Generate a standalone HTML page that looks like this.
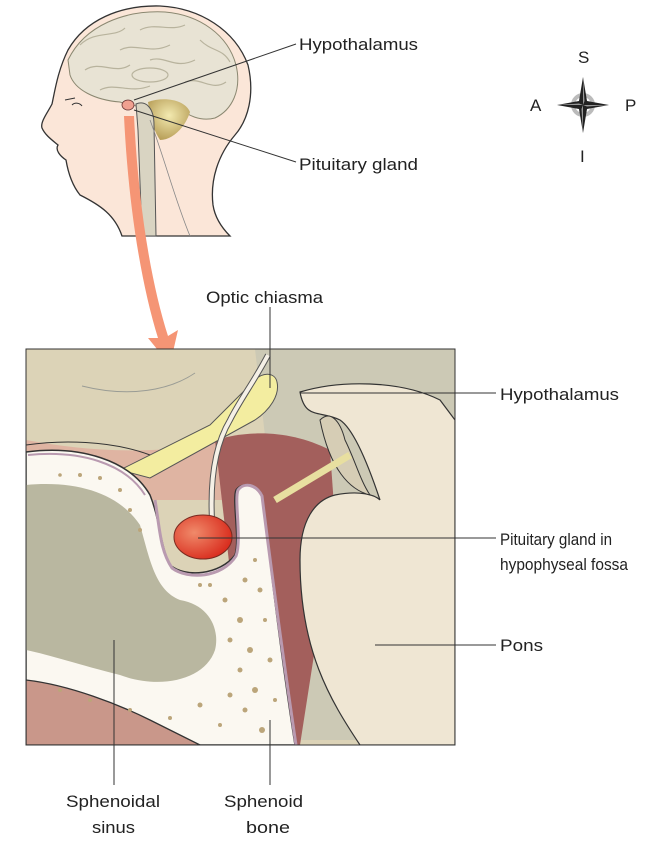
<!DOCTYPE html>
<html><head><meta charset="utf-8"><style>
body{margin:0;background:#fff;width:663px;height:845px;overflow:hidden}
svg{display:block}
text{font-family:"Liberation Sans",sans-serif;font-size:17px;fill:#222}
</style></head><body>
<svg width="663" height="845" viewBox="0 0 663 845" xmlns="http://www.w3.org/2000/svg">
<defs>
<clipPath id="box"><rect x="26" y="349" width="429" height="396"/></clipPath>
<radialGradient id="pit" cx="0.35" cy="0.4" r="0.7"><stop offset="0" stop-color="#f08a6a"/><stop offset="1" stop-color="#d8281a"/></radialGradient>
<radialGradient id="cb" cx="0.5" cy="0.4" r="0.6"><stop offset="0" stop-color="#f3eab0"/><stop offset="1" stop-color="#b9a05a"/></radialGradient>
</defs>
<!-- head -->
<path d="M122,236 C115,215 100,205 80,195 C72,185 68,172 66,160 C60,156 55,150 58,145 C52,140 45,135 42,128 C40,122 48,112 52,104 C55,90 58,70 68,50 C85,20 120,5 160,6 C200,8 235,30 248,65 C255,95 248,120 235,135 C218,155 210,180 213,205 C215,218 222,228 230,236 Z" fill="#fbe6d8" stroke="#333" stroke-width="1.3"/>
<path d="M68,60 C85,25 125,10 165,12 C200,15 228,35 236,65 C242,90 232,110 215,118 C200,122 188,115 178,108 C160,104 140,110 120,102 C95,100 75,90 70,75 Z" fill="#e8e3d4" stroke="#8a8770" stroke-width="1"/>
<g fill="none" stroke="#b8b39d" stroke-width="1.2">
<path d="M80,45 C95,30 115,38 125,28 M140,30 C155,22 170,32 185,25 M85,70 C100,60 115,75 130,65 M150,60 C165,55 175,70 195,60 M200,40 C212,52 222,48 230,62 M100,90 C115,82 130,94 150,86 M185,82 C200,76 212,92 226,82 M120,50 C135,42 150,55 170,45"/>
<ellipse cx="150" cy="75" rx="18" ry="7"/>
</g>
<path d="M148,102 C165,96 185,100 190,112 C185,128 172,140 160,140 C152,128 150,115 148,102 Z" fill="url(#cb)"/>
<path d="M136,104 C146,100 154,108 154,125 L156,236 L142,236 L138,130 Z" fill="#d9d4c2" stroke="#555" stroke-width="1"/>
<path d="M150,120 C165,160 175,200 190,236" fill="none" stroke="#888" stroke-width="0.8"/>
<ellipse cx="128" cy="105" rx="6" ry="5" fill="#f0a090" stroke="#633" stroke-width="0.8"/>
<path d="M65,100 L75,98 M72,105 C75,102 80,103 82,106" stroke="#333" fill="none" stroke-width="1"/>
<!-- arrow -->
<path d="M124,116 C128,200 140,280 158,338 L148,338 L170,365 L178,330 L168,336 C150,280 138,200 134,116 Z" fill="#f59575"/>
<g stroke="#333" stroke-width="1" fill="none">
<line x1="134" y1="100" x2="296" y2="44"/>
<line x1="134" y1="110" x2="296" y2="162"/>
</g>
<text x="299" y="50" textLength="119" lengthAdjust="spacingAndGlyphs">Hypothalamus</text>
<text x="299" y="170" textLength="119" lengthAdjust="spacingAndGlyphs">Pituitary gland</text>
<!-- compass -->
<g transform="translate(583,105)">
<circle r="10" fill="none" stroke="#bbb" stroke-width="4"/>
<path d="M0,-28 L4,-4 L26,0 L4,4 L0,28 L-4,4 L-26,0 L-4,-4 Z" fill="#222"/>
<path d="M0,-28 L1.5,-4 L0,0 Z M26,0 L4,1.5 L0,0 Z M0,28 L-1.5,4 L0,0 Z M-26,0 L-4,-1.5 L0,0 Z" fill="#999"/>
</g>
<text x="578" y="63">S</text><text x="580" y="162">I</text>
<text x="530" y="111">A</text><text x="625" y="111">P</text>
<!-- main box -->
<g clip-path="url(#box)">
<rect x="26" y="349" width="429" height="396" fill="#dcd3b7"/>
<path d="M255,349 L455,349 L455,740 L300,740 Z" fill="#ccc9b5"/>
<path d="M26,440 C80,450 140,455 200,445 L215,430 L240,500 L26,500 Z" fill="#dfb4a2"/>
<path d="M215,440 C250,430 290,430 330,450 L335,520 L300,745 L250,745 Z" fill="#a35f5c"/>
<path d="M300,392 C340,380 400,380 440,400 L455,420 L455,745 L360,745 C330,700 300,650 300,560 C300,520 315,500 335,495 C360,490 375,495 380,500 C370,470 355,430 340,420 C320,410 305,420 300,392 Z" fill="#efe6d3" stroke="#333" stroke-width="1.2"/>
<path d="M320,420 C330,410 340,420 345,440 C355,460 360,480 370,495 C350,490 330,470 320,420 Z" fill="#d6cdb5" stroke="#333" stroke-width="1"/>
<path d="M120,470 L210,425 L230,405 L255,380 C262,372 275,372 277,382 C280,395 270,410 255,420 L150,478 Z" fill="#f3eda0" stroke="#555" stroke-width="1"/>
<path d="M268,355 C255,380 240,400 230,420 C215,445 210,480 212,520" fill="none" stroke="#555" stroke-width="6"/>
<path d="M268,355 C255,380 240,400 230,420 C215,445 210,480 212,520" fill="none" stroke="#f5f0e6" stroke-width="4"/>
<path d="M275,500 L350,455" stroke="#e8dfa0" stroke-width="7"/>
<path d="M26,452 C80,445 130,460 150,495 C160,520 160,545 170,565 C185,578 220,575 235,555 C240,540 232,500 236,490 C242,482 255,483 262,495 C270,560 280,650 295,745 L26,745 Z" fill="#fbf8f1" stroke="#333" stroke-width="1.5"/>
<path d="M28,455 C80,450 125,463 145,495" fill="none" stroke="#b99ab0" stroke-width="2"/>
<path d="M26,485 C80,480 120,495 140,525 C150,560 155,590 180,600 C210,605 220,630 215,650 C205,680 160,690 120,675 C80,665 50,655 26,650 Z" fill="#b9b7a0"/>
<path d="M26,680 C70,685 120,705 150,720 C170,730 190,740 200,745 L26,745 Z" fill="#c9978a" stroke="#333" stroke-width="1.3"/>
<g fill="#bba57a">
<circle cx="225" cy="600" r="2.5"/><circle cx="240" cy="620" r="3"/><circle cx="230" cy="640" r="2.5"/><circle cx="250" cy="650" r="3"/><circle cx="240" cy="670" r="2.5"/><circle cx="255" cy="690" r="3"/><circle cx="245" cy="710" r="2.5"/><circle cx="262" cy="730" r="3"/><circle cx="260" cy="590" r="2.5"/><circle cx="265" cy="620" r="2"/><circle cx="270" cy="660" r="2.5"/><circle cx="275" cy="700" r="2"/><circle cx="255" cy="560" r="2"/><circle cx="245" cy="580" r="2.5"/><circle cx="210" cy="585" r="2"/><circle cx="200" cy="585" r="2"/>
<circle cx="130" cy="510" r="2"/><circle cx="140" cy="530" r="2"/><circle cx="100" cy="478" r="2"/><circle cx="120" cy="490" r="2"/><circle cx="60" cy="475" r="1.8"/><circle cx="80" cy="475" r="2"/>
<circle cx="60" cy="690" r="2"/><circle cx="90" cy="700" r="2"/><circle cx="130" cy="710" r="2"/><circle cx="170" cy="718" r="2"/><circle cx="200" cy="705" r="2.5"/><circle cx="230" cy="695" r="2.5"/><circle cx="220" cy="725" r="2"/>
</g>
<path d="M155,500 C160,530 160,550 172,568 C188,580 222,578 236,556 C242,540 234,500 238,490 C244,482 256,484 262,496 C270,560 282,650 296,745" fill="none" stroke="#b99ab0" stroke-width="3"/>
<ellipse cx="203" cy="537" rx="29" ry="22" fill="url(#pit)" stroke="#7a2a20" stroke-width="1"/>
<path d="M26,445 C60,440 110,440 150,455" fill="none" stroke="#333" stroke-width="1"/>
<path d="M82,386 C130,398 170,390 195,373" fill="none" stroke="#9a9c95" stroke-width="1"/>
</g>
<rect x="26" y="349" width="429" height="396" fill="none" stroke="#333" stroke-width="1"/>
<g stroke="#333" stroke-width="1" fill="none">
<line x1="270" y1="307" x2="270" y2="388"/>
<line x1="300" y1="393" x2="496" y2="393"/>
<line x1="198" y1="538" x2="496" y2="538"/>
<line x1="375" y1="645" x2="496" y2="645"/>
<line x1="114" y1="640" x2="114" y2="785"/>
<line x1="270" y1="720" x2="270" y2="785"/>
</g>
<text x="206" y="303" textLength="117" lengthAdjust="spacingAndGlyphs">Optic chiasma</text>
<text x="500" y="400" textLength="119" lengthAdjust="spacingAndGlyphs">Hypothalamus</text>
<text x="500" y="545" textLength="112" lengthAdjust="spacingAndGlyphs">Pituitary gland in</text>
<text x="500" y="570" textLength="128" lengthAdjust="spacingAndGlyphs">hypophyseal fossa</text>
<text x="500" y="651" textLength="43" lengthAdjust="spacingAndGlyphs">Pons</text>
<text x="66" y="807" textLength="94" lengthAdjust="spacingAndGlyphs">Sphenoidal</text>
<text x="92" y="833" textLength="43" lengthAdjust="spacingAndGlyphs">sinus</text>
<text x="224" y="807" textLength="79" lengthAdjust="spacingAndGlyphs">Sphenoid</text>
<text x="246" y="833" textLength="44" lengthAdjust="spacingAndGlyphs">bone</text>
</svg>
</body></html>
